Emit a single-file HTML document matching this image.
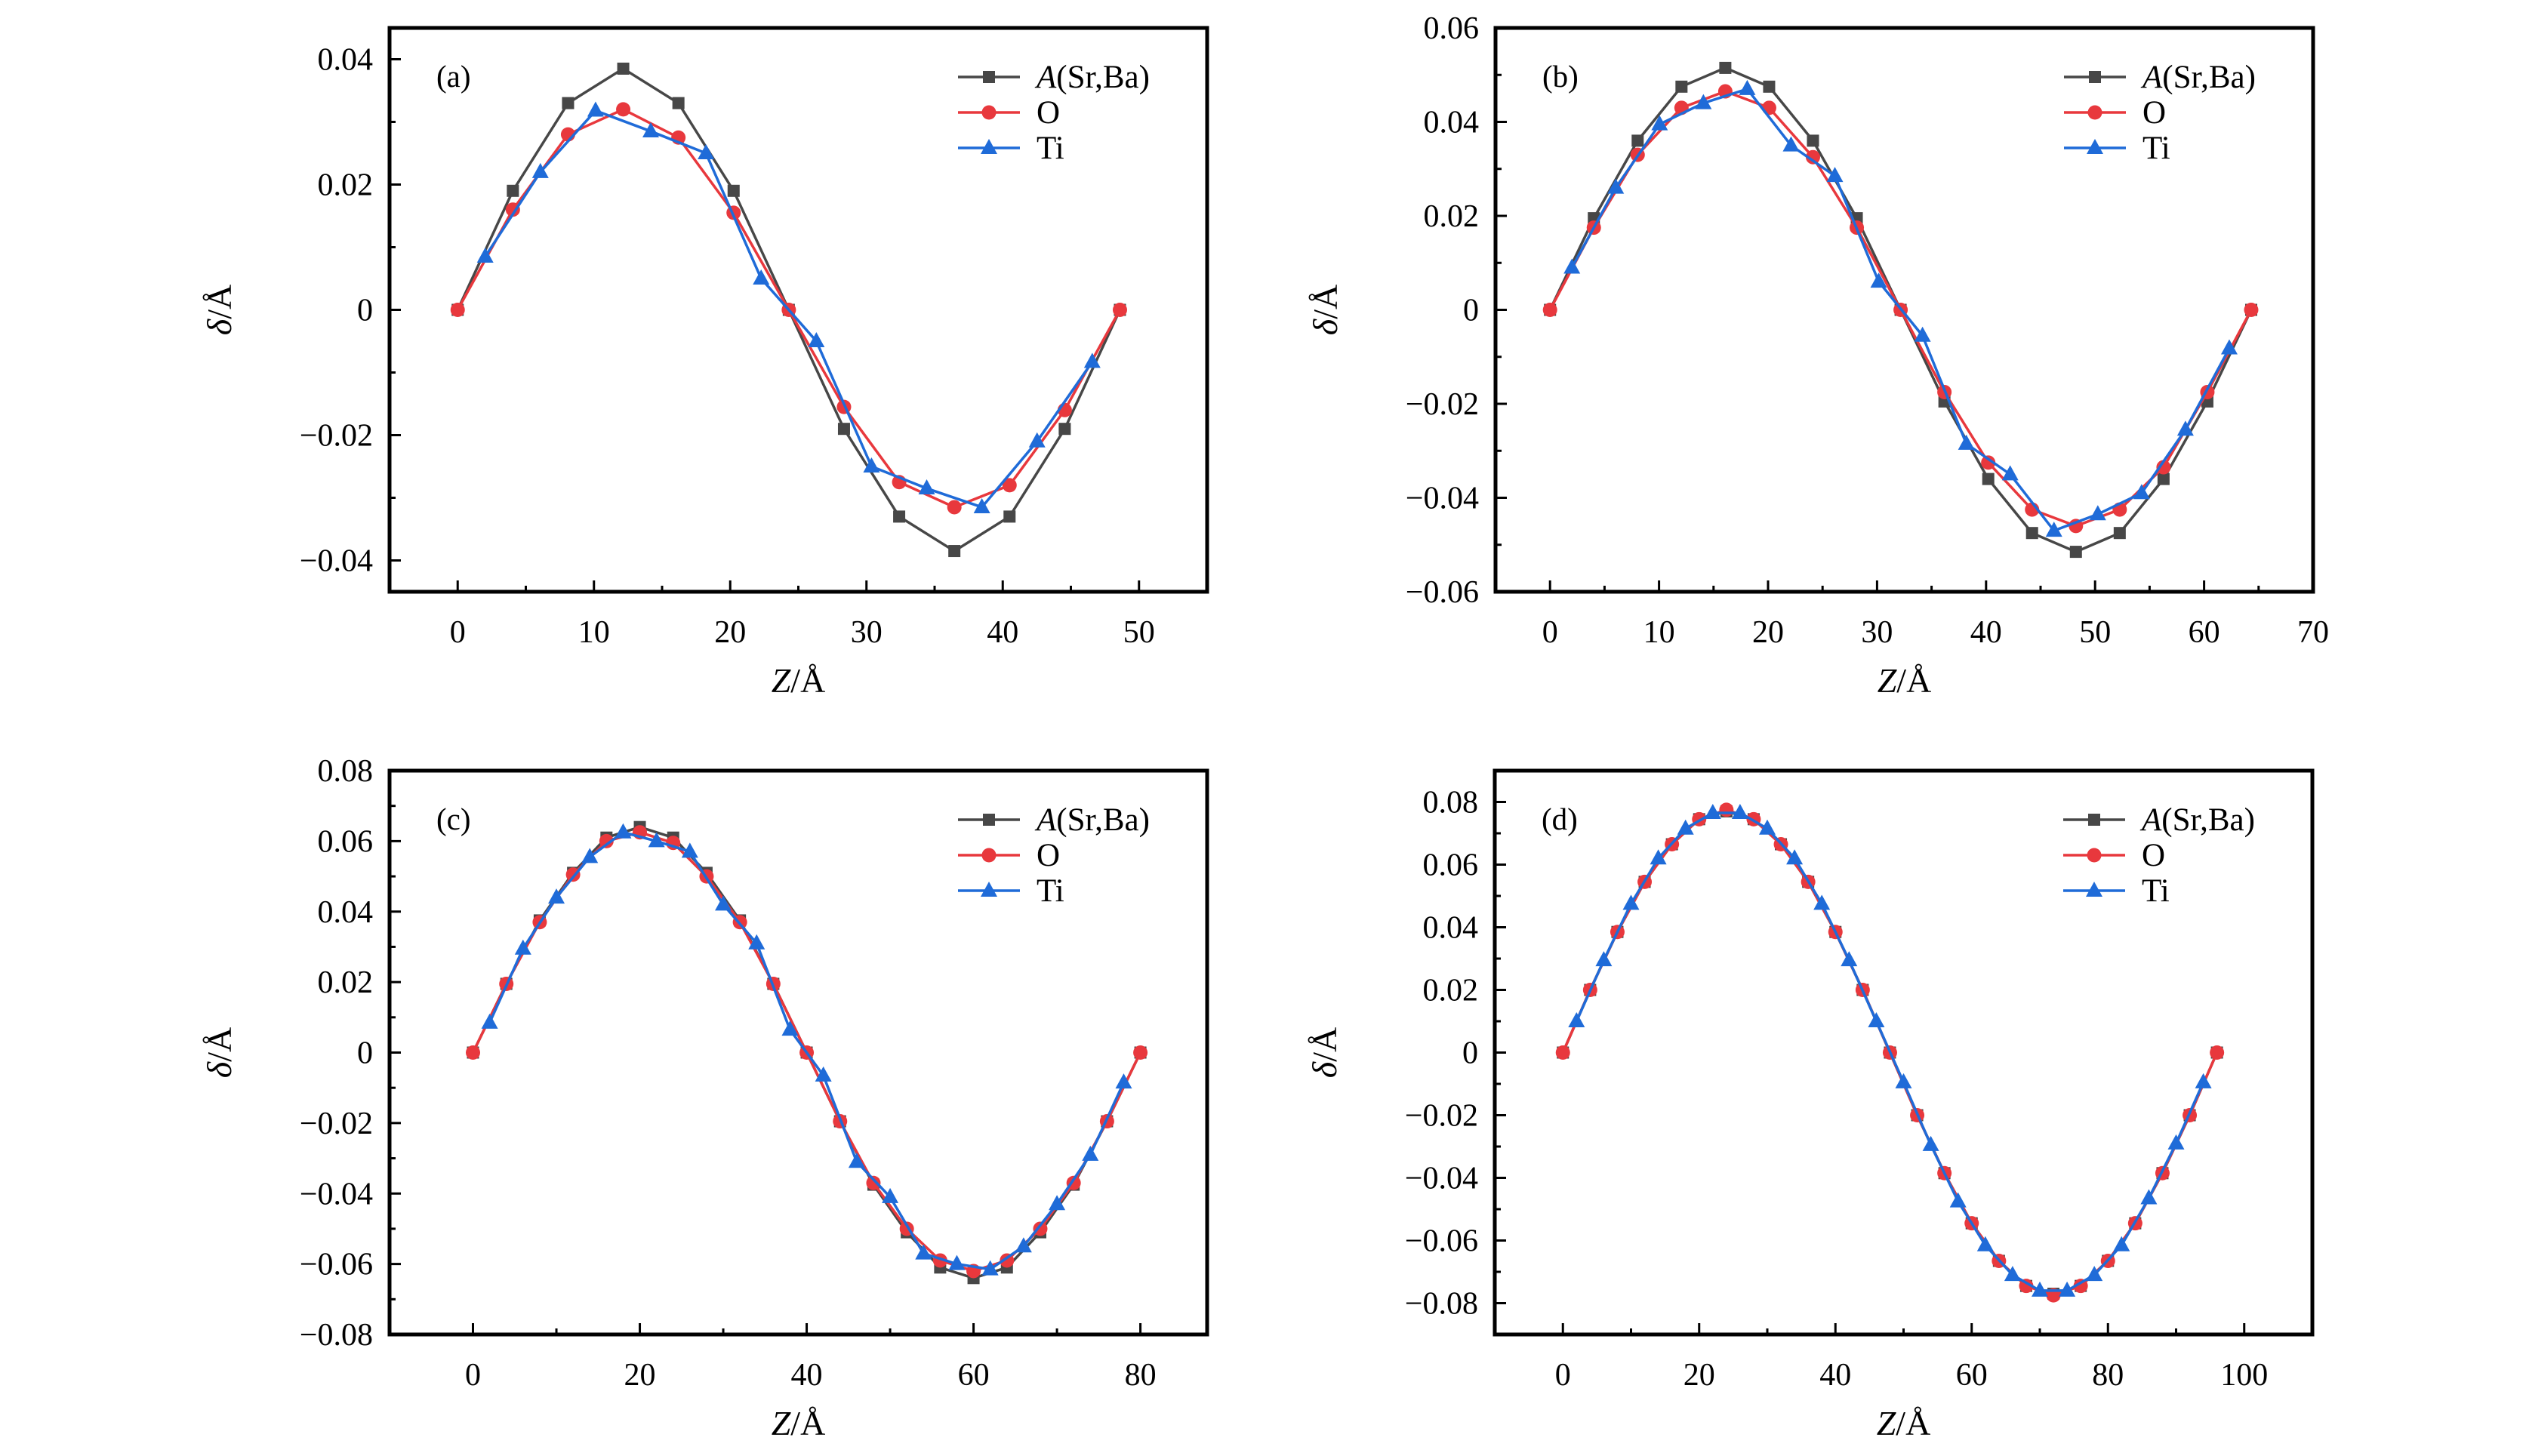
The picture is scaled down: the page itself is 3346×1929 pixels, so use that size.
<!DOCTYPE html>
<html><head><meta charset="utf-8"><style>
html,body{margin:0;padding:0;background:#fff}
svg{display:block}
text{font-family:"Liberation Serif","DejaVu Serif",serif;fill:#000}
</style></head><body>
<svg id="fig" width="3346" height="1929" viewBox="0 0 3346 1929" xmlns="http://www.w3.org/2000/svg"></svg>
<script>
// Panel (a)
const aXA=[0,4.05,8.1,12.15,16.2,20.25,24.3,28.35,32.4,36.45,40.5,44.55,48.6];
const aA=[0,0.019,0.033,0.0385,0.033,0.019,0,-0.019,-0.033,-0.0385,-0.033,-0.019,0];
const aO=[0,0.016,0.028,0.032,0.0275,0.0155,0,-0.0155,-0.0275,-0.0315,-0.028,-0.016,0];
const aXT=[2.02,6.07,10.12,14.17,18.22,22.27,26.32,30.37,34.42,38.47,42.52,46.57];
const aT=[0.0085,0.022,0.0318,0.0285,0.025,0.005,-0.005,-0.025,-0.0285,-0.0315,-0.021,-0.0083];
// Panel (b)
const bXA=[0,4.02,8.04,12.06,16.08,20.1,24.12,28.14,32.16,36.18,40.2,44.22,48.24,52.26,56.28,60.3,64.32];
const bA=[0,0.0195,0.036,0.0475,0.0515,0.0475,0.036,0.0195,0,-0.0195,-0.036,-0.0475,-0.0515,-0.0475,-0.036,-0.0195,0];
const bO=[0,0.0175,0.033,0.043,0.0465,0.043,0.0325,0.0175,0,-0.0175,-0.0325,-0.0425,-0.046,-0.0425,-0.0335,-0.0175,0];
const bXT=[2.01,6.03,10.05,14.07,18.09,22.11,26.13,30.15,34.17,38.19,42.21,46.23,50.25,54.27,58.29,62.31];
const bT=[0.009,0.026,0.0395,0.044,0.047,0.035,0.0285,0.006,-0.0055,-0.0285,-0.035,-0.047,-0.0435,-0.039,-0.0255,-0.0082];
// Panel (c)
const cXA=[0,4,8,12,16,20,24,28,32,36,40,44,48,52,56,60,64,68,72,76,80];
const cA=[0,0.0195,0.0375,0.051,0.061,0.064,0.061,0.051,0.0375,0.0195,0,-0.0195,-0.0375,-0.051,-0.061,-0.064,-0.061,-0.051,-0.0375,-0.0195,0];
const cO=[0,0.0195,0.037,0.0505,0.06,0.0625,0.0595,0.05,0.037,0.0195,0,-0.0195,-0.037,-0.05,-0.059,-0.062,-0.059,-0.05,-0.037,-0.0195,0];
const cXT=[2,6,10,14,18,22,26,30,34,38,42,46,50,54,58,62,66,70,74,78];
const cT=[0.0085,0.0295,0.044,0.0555,0.0625,0.06,0.057,0.042,0.031,0.0065,-0.0065,-0.031,-0.041,-0.057,-0.06,-0.0615,-0.055,-0.043,-0.029,-0.0085];
// Panel (d)
const dXA=[0,4,8,12,16,20,24,28,32,36,40,44,48,52,56,60,64,68,72,76,80,84,88,92,96];
const dA=[0,0.02,0.0385,0.0545,0.0665,0.0745,0.077,0.0745,0.0665,0.0545,0.0385,0.02,0,-0.02,-0.0385,-0.0545,-0.0665,-0.0745,-0.077,-0.0745,-0.0665,-0.0545,-0.0385,-0.02,0];
const dO=[0,0.02,0.0385,0.0545,0.0665,0.0745,0.0775,0.0745,0.0665,0.0545,0.0385,0.02,0,-0.02,-0.0385,-0.0545,-0.0665,-0.0745,-0.0775,-0.0745,-0.0665,-0.0545,-0.0385,-0.02,0];
const dXT=[2,6,10,14,18,22,26,30,34,38,42,46,50,54,58,62,66,70,74,78,82,86,90,94];
const dT=[0.01,0.0295,0.0475,0.062,0.0715,0.0765,0.0765,0.0715,0.062,0.0475,0.0295,0.01,-0.0095,-0.0295,-0.0475,-0.0615,-0.071,-0.076,-0.076,-0.071,-0.0615,-0.0465,-0.029,-0.0095];
// tick labels
const aXTicks=[0,10,20,30,40,50];
const aYTicks=[-0.04,-0.02,0,0.02,0.04];
const bXTicks=[0,10,20,30,40,50,60,70];
const bYTicks=[-0.06,-0.04,-0.02,0,0.02,0.04,0.06];
const cXTicks=[0,20,40,60,80];
const cYTicks=[-0.08,-0.06,-0.04,-0.02,0,0.02,0.04,0.06,0.08];
const dXTicks=[0,20,40,60,80,100];
const dYTicks=[-0.08,-0.06,-0.04,-0.02,0,0.02,0.04,0.06,0.08];

const NS="http://www.w3.org/2000/svg";
const svg=document.getElementById('fig');
function mk(tag,attrs,parent){const e=document.createElementNS(NS,tag);for(const k in attrs)e.setAttribute(k,attrs[k]);(parent||svg).appendChild(e);return e;}
const COL={A:'#474747',O:'#e8383d',T:'#1f6bd8'};
function fmt(v){if(v===0)return '0';const s=Math.abs(v).toFixed(2);return (v<0?'\u2212':'')+s;}
function marker(g,type,x,y,c){
  let m;
  if(type==='A'){m=mk('rect',{x:x-8,y:y-8,width:16,height:16,fill:c},g);}
  else if(type==='O'){m=mk('circle',{cx:x,cy:y,r:9.5,fill:c},g);}
  else {m=mk('polygon',{points:`${x},${y-12} ${x+11},${y+8} ${x-11},${y+8}`,fill:c},g);}
  return m;
}
function panel(id,L,T,xmin,xmax,ymin,ymax,xt,yt,xs,ys){
  const W=1083,H=747;
  const X=v=>L+(v-xmin)/(xmax-xmin)*W;
  const Y=v=>T+H-(v-ymin)/(ymax-ymin)*H;
  const g=mk('g',{});
  
  
  const box=mk('rect',{x:L,y:T,width:W,height:H,fill:'none',stroke:'#000','stroke-width':5},g);
  
  
  const dx=xt[1]-xt[0], dy=yt[1]-yt[0];
  for(let i=0;i<xt.length;i++){
    const x=X(xt[i]);
    mk('line',{x1:x,y1:T+H,x2:x,y2:T+H-15,stroke:'#000','stroke-width':3},g);
    const t=mk('text',{x:x,y:T+H+67,'font-size':42,'text-anchor':'middle'},g);
    t.textContent=String(xt[i]);
    
    
    const mxv=xt[i]+dx/2;
    if(mxv<xmax){const mx=X(mxv);mk('line',{x1:mx,y1:T+H,x2:mx,y2:T+H-8,stroke:'#000','stroke-width':3},g);}
  }
  for(let i=0;i<yt.length;i++){
    const y=Y(yt[i]);
    mk('line',{x1:L,y1:y,x2:L+15,y2:y,stroke:'#000','stroke-width':3},g);
    const t=mk('text',{x:L-22,y:y+14,'font-size':42,'text-anchor':'end'},g);
    t.textContent=fmt(yt[i]);
    
    
    const myv=yt[i]+dy/2;
    if(myv<ymax){const my=Y(myv);mk('line',{x1:L,y1:my,x2:L+8,y2:my,stroke:'#000','stroke-width':3},g);}
  }
  const xtTitle=mk('text',{x:L+W/2,y:T+H+133,'font-size':46,'text-anchor':'middle'},g);
  xtTitle.innerHTML='<tspan font-style="italic">Z</tspan>/Å';
  
  
  const ytTitle=mk('text',{x:0,y:0,'font-size':46,'text-anchor':'middle',transform:`translate(${L-210},${T+H/2}) rotate(-90)`},g);
  ytTitle.innerHTML='<tspan font-style="italic">δ</tspan>/Å';
  
  
  const pl=mk('text',{x:L+62,y:T+78,'font-size':41},g);
  pl.textContent='('+id+')';
  
  
  const ser=[['A',xs[0],ys[0]],['O',xs[0],ys[1]],['T',xs[1],ys[2]]];
  for(const [k,xx,yy] of ser){
    const sg=mk('g',{},g);
    
    
    const pts=xx.map((v,i)=>X(v)+','+Y(yy[i])).join(' ');
    mk('polyline',{points:pts,fill:'none',stroke:COL[k],'stroke-width':3.5},sg);
    for(let i=0;i<xx.length;i++){
      const m=marker(sg,k,X(xx[i]),Y(yy[i]),COL[k]);
      
      
    }
  }
  const lg=mk('g',{},g);
  
  
  const names=[['A','(Sr,Ba)'],['O','O'],['T','Ti']];
  names.forEach((n,i)=>{
    const y=T+65+i*47;
    const e=mk('g',{},lg);
    
    
    mk('line',{x1:L+753,y1:y,x2:L+835,y2:y,stroke:COL[n[0]],'stroke-width':3.5},e);
    marker(e,n[0],L+794,y,COL[n[0]]);
    const t=mk('text',{x:L+857,y:y+14,'font-size':43},e);
    if(n[0]==='A') t.innerHTML='<tspan font-style="italic">A</tspan>(Sr,Ba)';
    else t.textContent=n[1];
  });
}
panel('a',516,37,-5,55,-0.045,0.045,aXTicks,aYTicks,[aXA,aXT],[aA,aO,aT]);
panel('b',1981,37,-5,70,-0.06,0.06,bXTicks,bYTicks,[bXA,bXT],[bA,bO,bT]);
panel('c',516,1021,-10,88,-0.08,0.08,cXTicks,cYTicks,[cXA,cXT],[cA,cO,cT]);
panel('d',1980,1021,-10,110,-0.09,0.09,dXTicks,dYTicks,[dXA,dXT],[dA,dO,dT]);
</script>
</body></html>
